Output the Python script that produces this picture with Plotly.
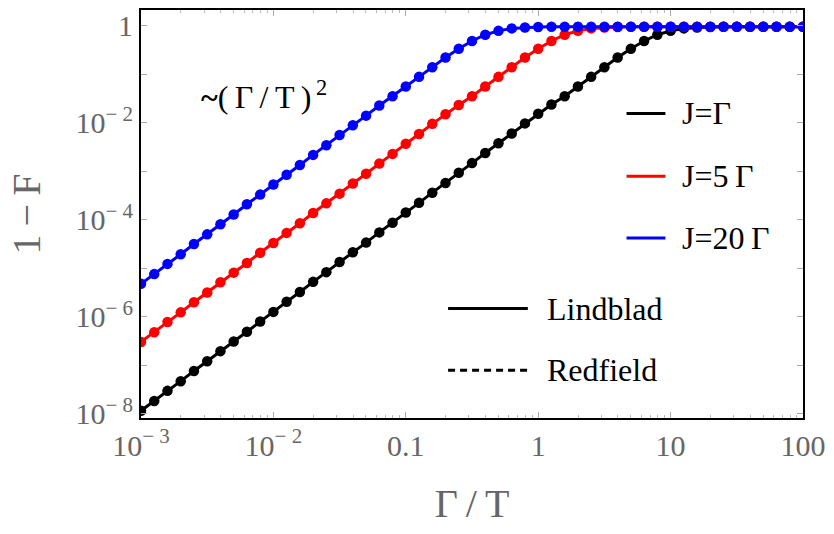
import plotly.graph_objects as go

# log10(Γ/T) sample grid
x_exp = [-3.0, -2.9, -2.8, -2.7, -2.6, -2.5, -2.4, -2.3, -2.2, -2.1,
         -2.0, -1.9, -1.8, -1.7, -1.6, -1.5, -1.4, -1.3, -1.2, -1.1,
         -1.0, -0.9, -0.8, -0.7, -0.6, -0.5, -0.4, -0.3, -0.2, -0.1,
         0.0, 0.1, 0.2, 0.3, 0.4, 0.5, 0.6, 0.7, 0.8, 0.9,
         1.0, 1.1, 1.2, 1.3, 1.4, 1.5, 1.6, 1.7, 1.8, 1.9, 2.0]

# log10(1 - F) for each coupling
black_exp = [-7.94, -7.74, -7.53, -7.33, -7.12, -6.92, -6.71, -6.51, -6.31, -6.10,
             -5.90, -5.69, -5.49, -5.28, -5.08, -4.87, -4.67, -4.47, -4.26, -4.06,
             -3.85, -3.65, -3.44, -3.24, -3.03, -2.83, -2.62, -2.42, -2.22, -2.01,
             -1.81, -1.62, -1.45, -1.25, -1.05, -0.85, -0.65, -0.47, -0.31, -0.18,
             -0.10, -0.05, -0.03, -0.02, -0.015, -0.015, -0.015, -0.015, -0.015, -0.015, -0.015]
red_exp = [-6.52, -6.32, -6.11, -5.91, -5.70, -5.50, -5.29, -5.09, -4.89, -4.68,
           -4.48, -4.27, -4.07, -3.86, -3.66, -3.46, -3.25, -3.05, -2.84, -2.64,
           -2.43, -2.23, -2.02, -1.82, -1.63, -1.45, -1.25, -1.05, -0.85, -0.65,
           -0.47, -0.31, -0.18, -0.10, -0.05, -0.03, -0.02, -0.015, -0.015, -0.015,
           -0.015, -0.015, -0.015, -0.015, -0.015, -0.015, -0.015, -0.015, -0.015, -0.015, -0.015]
blue_exp = [-5.32, -5.12, -4.91, -4.71, -4.50, -4.30, -4.09, -3.89, -3.68, -3.48,
            -3.27, -3.07, -2.87, -2.66, -2.46, -2.25, -2.05, -1.85, -1.64, -1.45,
            -1.25, -1.05, -0.85, -0.65, -0.47, -0.31, -0.18, -0.10, -0.05, -0.03,
            -0.02, -0.015, -0.015, -0.015, -0.015, -0.015, -0.015, -0.015, -0.015, -0.015,
            -0.015, -0.015, -0.015, -0.015, -0.015, -0.015, -0.015, -0.015, -0.015, -0.015, -0.015]

series_names = ["J=Γ", "J=5\u2009Γ", "J=20\u2009Γ"]
series_colors = ["#000000", "#ff0000", "#0000ff"]
series_data = [black_exp, red_exp, blue_exp]

x_tick_vals = [1e-3, 1e-2, 1e-1, 1, 10, 100]
x_tick_text = ["10<sup>\u2212 3</sup>", "10<sup>\u2212 2</sup>", "0.1", "1", "10", "100"]
y_tick_vals = [1, 1e-1, 1e-2, 1e-3, 1e-4, 1e-5, 1e-6, 1e-7, 1e-8]
y_tick_text = ["1", "", "10<sup>\u2212 2</sup>", "", "10<sup>\u2212 4</sup>", "",
               "10<sup>\u2212 6</sup>", "", "10<sup>\u2212 8</sup>"]

FONT = "Liberation Serif"
GRAY = "#666666"

fig = go.Figure()
xs = [10 ** e for e in x_exp]
for name, col, ex in zip(series_names, series_colors, series_data):
    fig.add_trace(go.Scatter(
        x=xs, y=[10 ** e for e in ex], mode="lines+markers", name=name,
        line=dict(color=col, width=3), marker=dict(color=col, size=10.5),
        showlegend=False))

minor_x = [m * 10 ** d for d in range(-3, 2) for m in range(2, 10)]

fig.update_layout(
    width=834, height=534,
    margin=dict(l=141, r=29, t=8, b=116),
    paper_bgcolor="white", plot_bgcolor="white",
    showlegend=False,
    font=dict(family=FONT, color="black"),
)

fig.update_xaxes(
    type="log", range=[-3, 2],
    showline=True, linecolor="black", linewidth=2, mirror="allticks",
    ticks="inside", ticklen=6, tickcolor="#aaaaaa", tickwidth=1,
    tickvals=x_tick_vals, ticktext=x_tick_text,
    tickfont=dict(family=FONT, size=30, color=GRAY),
    ticklabelstandoff=0,
    showgrid=False, zeroline=False,
    minor=dict(tickvals=minor_x, ticks="inside", ticklen=3, tickcolor="#bbbbbb", showgrid=False),
    title=dict(text="Γ\u2009/\u2009T", font=dict(family=FONT, size=40, color=GRAY), standoff=28),
)
fig.update_yaxes(
    type="log", range=[-8.09, 0.33],
    showline=True, linecolor="black", linewidth=2, mirror="allticks",
    ticks="inside", ticklen=6, tickcolor="#aaaaaa", tickwidth=1,
    tickvals=y_tick_vals, ticktext=y_tick_text,
    tickfont=dict(family=FONT, size=30, color=GRAY),
    showgrid=False, zeroline=False,
    title=dict(text="1\u2009\u2212\u2009F", font=dict(family=FONT, size=40, color=GRAY), standoff=22),
)

def px2paper_x(px):
    return (px - 141) / 664.0

def px2paper_y(py):
    return (418 - py) / 410.0

# annotation of scaling
fig.add_annotation(x=px2paper_x(199), y=px2paper_y(93), xref="paper", yref="paper",
                   text="<b>~</b>(\u2009Γ\u2009/\u2009T\u2009)<sup>\u20092</sup>", showarrow=False,
                   xanchor="left", yanchor="middle",
                   font=dict(family=FONT, size=32, color="black"))

# legend for couplings
legend_rows_y = [112, 175, 237]
for name, col, py in zip(series_names, series_colors, legend_rows_y):
    fig.add_shape(type="line", xref="paper", yref="paper",
                  x0=px2paper_x(628), x1=px2paper_x(667), y0=px2paper_y(py), y1=px2paper_y(py),
                  line=dict(color=col, width=3))
    fig.add_annotation(x=px2paper_x(682), y=px2paper_y(py), xref="paper", yref="paper",
                       text=name, showarrow=False, xanchor="left", yanchor="middle",
                       font=dict(family=FONT, size=32, color="black"))

# legend for methods
method_names = ["Lindblad", "Redfield"]
method_dash = ["solid", "7px,5px"]
method_y = [308, 370]
for name, dash, py in zip(method_names, method_dash, method_y):
    fig.add_shape(type="line", xref="paper", yref="paper",
                  x0=px2paper_x(449), x1=px2paper_x(529), y0=px2paper_y(py), y1=px2paper_y(py),
                  line=dict(color="black", width=3, dash=dash))
    fig.add_annotation(x=px2paper_x(546), y=px2paper_y(py), xref="paper", yref="paper",
                       text=name, showarrow=False, xanchor="left", yanchor="middle",
                       font=dict(family=FONT, size=32, color="black"))

fig.write_html("out.html")
